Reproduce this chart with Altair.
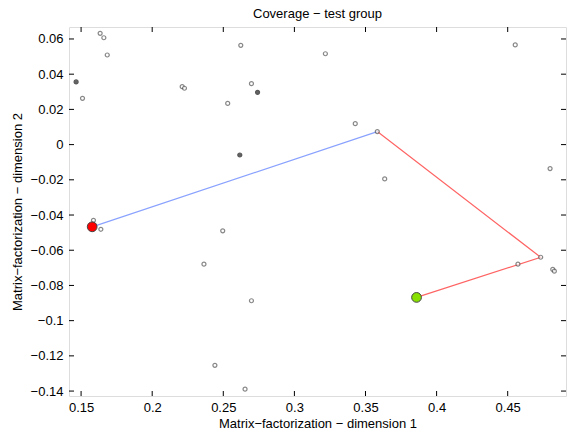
import altair as alt
import pandas as pd

# scatter points (dimension 1, dimension 2); dark = overlapping/duplicate points
xs = [0.1465, 0.151, 0.1634, 0.166, 0.1684, 0.2211, 0.2227, 0.2623, 0.2531, 0.2698,
      0.2741, 0.2616, 0.3218, 0.3428, 0.3583, 0.4553, 0.4798, 0.3635, 0.1587, 0.1639,
      0.2496, 0.2364, 0.2698, 0.2441, 0.2653, 0.4572, 0.4732, 0.4817, 0.4828]
ys = [0.0356, 0.0263, 0.0632, 0.0607, 0.0509, 0.0329, 0.0320, 0.0564, 0.0234, 0.0346,
      0.0297, -0.0059, 0.0516, 0.0119, 0.0074, 0.0566, -0.0136, -0.0195, -0.0430, -0.0481,
      -0.0490, -0.0679, -0.0887, -0.1254, -0.1389, -0.0679, -0.0640, -0.0709, -0.0719]
dark = [1, 0, 0, 0, 0, 0, 0, 0, 0, 0,
        1, 1, 0, 0, 0, 0, 0, 0, 0, 0,
        0, 0, 0, 0, 0, 0, 0, 0, 0]

# path segments
blue_x = [0.1578, 0.3583]
blue_y = [-0.0467, 0.0074]
red_x = [0.3583, 0.4732, 0.3859]
red_y = [0.0074, -0.0640, -0.0868]

# start / end points
start_pt = (0.1578, -0.0467)
end_pt = (0.3859, -0.0868)

x_ticks = [0.15, 0.2, 0.25, 0.3, 0.35, 0.4, 0.45]
y_ticks = [0.06, 0.04, 0.02, 0.0, -0.02, -0.04, -0.06, -0.08, -0.1, -0.12, -0.14]

W, H = 497, 369
FONT = "Liberation Sans"

xsc = alt.Scale(domain=[0.1415, 0.491], nice=False, zero=False)
ysc = alt.Scale(domain=[-0.1428, 0.0668], nice=False, zero=False)

lab = "replace(format(datum.value, '.2~f'), '-', '\u2212')"

xaxis = alt.Axis(values=x_ticks, labelExpr=lab, ticks=False, domain=False, grid=False,
                 labelOverlap=False, labelFlush=False,
                 labelFontSize=13, labelFont=FONT, labelColor="black", labelPadding=5,
                 title="Matrix\u2212factorization \u2212 dimension 1", titleFont=FONT,
                 titleFontSize=13, titleFontWeight="normal", titleColor="black", titlePadding=3)
yaxis = alt.Axis(values=y_ticks, labelExpr=lab, ticks=False, domain=False, grid=False,
                 labelOverlap=False, labelFlush=False,
                 labelFontSize=13, labelFont=FONT, labelColor="black", labelPadding=6,
                 title="Matrix\u2212factorization \u2212 dimension 2", titleFont=FONT,
                 titleFontSize=13, titleFontWeight="normal", titleColor="black", titlePadding=6)

pts = pd.DataFrame({"x": xs, "y": ys, "dark": dark})
blue = pd.DataFrame({"x": blue_x, "y": blue_y, "o": range(len(blue_x))})
red = pd.DataFrame({"x": red_x, "y": red_y, "o": range(len(red_x))})
big = pd.DataFrame({"x": [start_pt[0], end_pt[0]], "y": [start_pt[1], end_pt[1]],
                    "k": ["start", "end"]})
xt = pd.DataFrame({"v": x_ticks})
yt = pd.DataFrame({"v": y_ticks})

X = lambda f: alt.X(f, scale=xsc, axis=xaxis)
Y = lambda f: alt.Y(f, scale=ysc, axis=yaxis)

blue_line = alt.Chart(blue).mark_line(color="#8aa2ff", strokeWidth=1.2).encode(
    x=X("x:Q"), y=Y("y:Q"), order="o:Q")
red_line = alt.Chart(red).mark_line(color="#ff6464", strokeWidth=1.2).encode(
    x=X("x:Q"), y=Y("y:Q"), order="o:Q")

scatter = alt.Chart(pts).mark_point(shape="circle", size=16, strokeWidth=1.2, clip=True).encode(
    x=X("x:Q"), y=Y("y:Q"),
    stroke=alt.condition("datum.dark == 1", alt.value("#111111"), alt.value("#555555")),
    fill=alt.condition("datum.dark == 1", alt.value("#222222"), alt.value("white")),
    fillOpacity=alt.value(1))

bigpts = alt.Chart(big).mark_point(shape="circle", size=95, strokeWidth=1, filled=True, opacity=1).encode(
    x=X("x:Q"), y=Y("y:Q"),
    fill=alt.Color("k:N", scale=alt.Scale(domain=["start", "end"], range=["#ff0000", "#88e000"]),
                   legend=None),
    stroke=alt.value("#444444"))

tl = 5
xt_bot = alt.Chart(xt).mark_rule(color="black", strokeWidth=1).encode(
    x=X("v:Q"), y=alt.value(H), y2=alt.value(H - tl))
xt_top = alt.Chart(xt).mark_rule(color="black", strokeWidth=1).encode(
    x=X("v:Q"), y=alt.value(0), y2=alt.value(tl))
yt_left = alt.Chart(yt).mark_rule(color="black", strokeWidth=1).encode(
    y=Y("v:Q"), x=alt.value(0), x2=alt.value(tl))
yt_right = alt.Chart(yt).mark_rule(color="black", strokeWidth=1).encode(
    y=Y("v:Q"), x=alt.value(W), x2=alt.value(W - tl))

chart = alt.layer(blue_line, red_line, xt_bot, xt_top, yt_left, yt_right, scatter, bigpts).properties(
    width=W, height=H,
    title=alt.TitleParams("Coverage \u2212 test group", font=FONT, fontSize=13,
                          fontWeight="normal", color="black", anchor="middle", offset=6),
    autosize=alt.AutoSizeParams(type="none"),
    padding={"left": 69, "top": 27, "right": 2, "bottom": 40},
).configure_view(stroke="black", strokeWidth=1).configure_axis(
    labelOverlap=False, labelFlush=False
).configure(background="white")

chart.save("out.html", embed_options={"renderer": "svg", "actions": False})
